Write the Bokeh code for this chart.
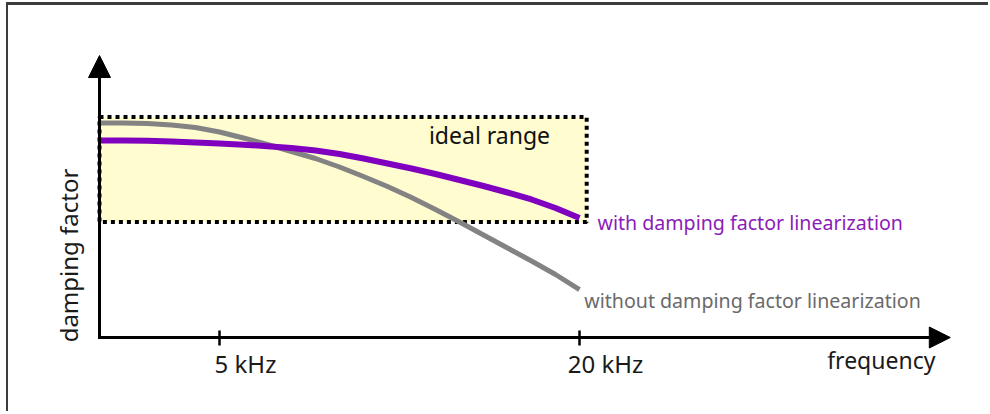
import math
from bokeh.plotting import figure
from bokeh.models import (Arrow, NormalHead, LinearAxis, FixedTicker, Range1d,
                          ColumnDataSource)
from bokeh.core.properties import value
from bokeh.embed import file_html
from bokeh.resources import INLINE

# ---- data (frequency in kHz, damping factor in arbitrary units) ----
freq = [0, 1, 2, 3, 4, 5, 6, 7, 8, 9, 10, 11, 12, 13, 14, 15, 16, 17, 18, 19, 20]
without_lin = [7.661, 7.661, 7.643, 7.589, 7.500, 7.339, 7.125, 6.893, 6.643, 6.393,
               6.089, 5.750, 5.393, 5.000, 4.571, 4.125, 3.661, 3.196, 2.732, 2.250,
               1.714]
with_lin = [7.036, 7.036, 7.025, 7.000, 6.964, 6.929, 6.886, 6.832, 6.768, 6.679,
            6.554, 6.393, 6.214, 6.036, 5.839, 5.625, 5.411, 5.179, 4.929, 4.625,
            4.268]

ideal_f = [0, 20.3]          # ideal range box, frequency extent
ideal_d = [4.125, 7.875]     # ideal range box, damping extent

tick_values = [5, 20]
tick_labels = ["5 kHz", "20 kHz"]

x_axis_end = 35.45
y_axis_end = 10.07

FONT = value("Noto Sans")

# ---- figure: the plot frame fills the whole canvas ----
W, H = 982, 409
p = figure(width=W, height=H, output_backend="svg", toolbar_location=None,
           x_axis_type=None, y_axis_type=None,
           x_range=Range1d(-91 / 24, 891 / 24), y_range=Range1d(-77 / 28, 332 / 28),
           min_border=0, min_border_left=0, min_border_right=0,
           min_border_top=0, min_border_bottom=0)
p.grid.visible = False
p.outline_line_color = None
p.background_fill_color = "white"
p.border_fill_color = "white"
p.styles = {"margin-left": "6px", "margin-top": "2px",
            "border-top": "3px solid #3c3c3c", "border-left": "2px solid #3c3c3c"}

# ideal range box
p.quad(left=[ideal_f[0]], right=[ideal_f[1]], bottom=[ideal_d[0]], top=[ideal_d[1]],
       fill_color="#fffccf", line_color="black", line_width=4, line_dash="4 4")

# curves
src = ColumnDataSource(dict(f=freq, a=without_lin, b=with_lin))
p.line("f", "a", source=src, line_width=5, line_color="#838383", line_join="round")
p.line("f", "b", source=src, line_width=6, line_color="#8000c0", line_join="round")

# axes drawn as arrows
p.add_layout(Arrow(x_start=-0.06, y_start=0, x_end=x_axis_end, y_end=0, line_width=3,
                   line_color="black",
                   end=NormalHead(size=21, fill_color="black", line_color="black")))
p.add_layout(Arrow(x_start=0, y_start=-0.05, x_end=0, y_end=y_axis_end, line_width=3,
                   line_color="black",
                   end=NormalHead(size=22, fill_color="black", line_color="black")))

# tick marks through a real axis placed at the origin
xaxis = LinearAxis(fixed_location=0, ticker=FixedTicker(ticks=tick_values),
                   axis_line_color=None, major_tick_in=7, major_tick_out=8,
                   major_tick_line_width=2.5, major_tick_line_color="black",
                   minor_tick_line_color=None,
                   major_label_overrides={t: "" for t in tick_values})
p.add_layout(xaxis, "below")

# tick labels (number centred on its tick)
p.text(x=tick_values, y=[-0.93] * len(tick_values), text=tick_labels,
       text_font=FONT, text_font_size="24px", text_color="#1a1a1a",
       text_align="center", text_baseline="middle", x_offset=26)

# texts
p.text(x=[34.83], y=[-0.82], text=["frequency"], text_font=FONT, text_font_size="23px",
       text_color="#1a1a1a", text_align="right", text_baseline="middle")
p.text(x=[-1.29], y=[2.93], text=["damping factor"], text_font=FONT,
       text_font_size="24px", text_color="#1a1a1a", text_align="center",
       text_baseline="middle", angle=math.pi / 2)
p.text(x=[16.25], y=[7.25], text=["ideal range"], text_font=FONT, text_font_size="23px",
       text_color="#111111", text_align="center", text_baseline="middle")
p.text(x=[20.75], y=[4.12], text=["with damping factor linearization"], text_font=FONT,
       text_font_size="19.6px", text_color="#8a1cb8", text_align="left",
       text_baseline="middle")
p.text(x=[20.2], y=[1.32], text=["without damping factor linearization"], text_font=FONT,
       text_font_size="19.6px", text_color="#6a6a6a", text_align="left",
       text_baseline="middle")

open("out.html", "w").write(file_html(p, INLINE))
